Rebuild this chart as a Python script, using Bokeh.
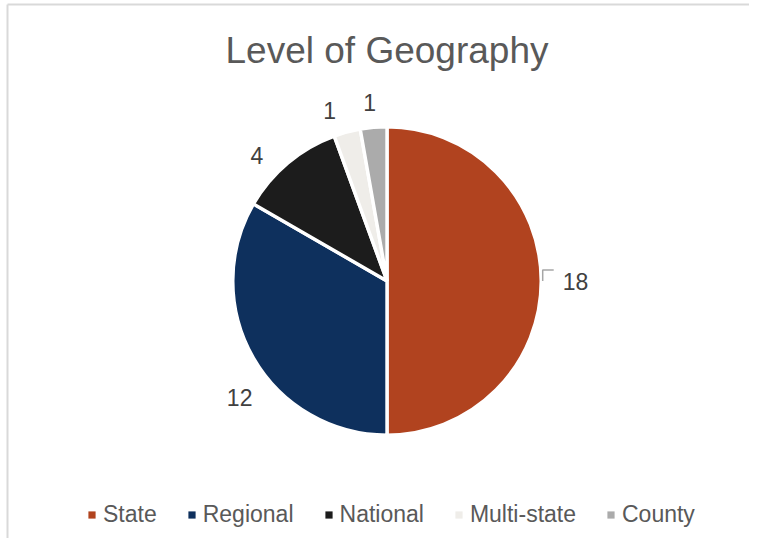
import math
from bokeh.plotting import figure
from bokeh.models import Range1d, Legend, LegendItem, Label
from bokeh.core.properties import value
from bokeh.embed import file_html
from bokeh.resources import INLINE

# ---- data ----
categories = ["State", "Regional", "National", "Multi-state", "County"]
counts = [18, 12, 4, 1, 1]
colors = ["#B1431F", "#0E305D", "#1C1C1C", "#EFEDE9", "#ABABAB"]
title_text = "Level of Geography"

# ---- layout constants (page pixels, y measured downward) ----
W, H = 749, 538
CX, CY_PAGE, R = 386.5, 280.5, 154.2
SEP_W = 3.4
FONT = "Liberation Sans"
label_dist = [188.5, 188.0, 181.0, 180.0, 179.0]
label_shift_deg = [0.0, 8.4, 6.0, 3.6, 0.6]

def py(y_page):
    return H - y_page

CY = py(CY_PAGE)

p = figure(width=W, height=H, x_range=Range1d(0, W), y_range=Range1d(0, H),
           output_backend="svg", toolbar_location=None, min_border=0,
           outline_line_color=None, background_fill_color="white")
p.axis.visible = False
p.grid.visible = False

# chart-area border (left/top edges visible in the reference crop)
p.segment(x0=[7, 7], y0=[0, py(4)], x1=[7, W], y1=[py(4), py(4)],
          line_color="#D9D9D9", line_width=2)

total = float(sum(counts))
starts, ends, mids = [], [], []
cum = 0.0
for c in counts:
    a0 = math.pi / 2 - 2 * math.pi * cum / total
    cum += c
    a1 = math.pi / 2 - 2 * math.pi * cum / total
    starts.append(a0)
    ends.append(a1)
    mids.append((a0 + a1) / 2)

for i in range(len(categories)):
    p.wedge(x=CX, y=CY, radius=R, start_angle=starts[i], end_angle=ends[i],
            direction="clock", fill_color=colors[i], line_color="white",
            line_width=SEP_W)

# legend swatches (one off-canvas quad each, used only for the legend)
swatches = [p.quad(left=[-30], right=[-20], top=[-20], bottom=[-30],
                   fill_color=colors[i], line_color=None)
            for i in range(len(categories))]

# data labels
lx, ly, lt = [], [], []
for i, c in enumerate(counts):
    a = mids[i] + math.radians(label_shift_deg[i])
    lx.append(CX + label_dist[i] * math.cos(a))
    ly.append(CY + label_dist[i] * math.sin(a))
    lt.append(str(c))
p.text(x=lx, y=ly, text=lt, text_align="center", text_baseline="middle",
       text_font=value(FONT), text_font_size="23px", text_color="#404040")

# leader line for the State label
ex = CX + R * math.cos(mids[0]) + 1.5
ey = CY + R * math.sin(mids[0])
p.line(x=[ex + 11, ex, ex], y=[ey + 11, ey + 11, ey], line_color="#A6A6A6", line_width=1.5)

# title
p.add_layout(Label(x=CX, y=py(50), text=title_text, text_align="center",
                   text_baseline="alphabetic", text_font=FONT, text_font_size="37px",
                   text_color="#595959"))

legend = Legend(items=[LegendItem(label=categories[i], renderers=[swatches[i]])
                       for i in range(len(categories))],
                orientation="horizontal", location=(87, 10),
                glyph_width=9, glyph_height=9, label_standoff=7, spacing=30,
                padding=0, margin=0, border_line_color=None,
                background_fill_alpha=0, label_text_font=FONT,
                label_text_font_size="23px", label_text_color="#595959",
                label_height=26)
p.add_layout(legend, "center")

open("out.html", "w").write(file_html(p, INLINE))
